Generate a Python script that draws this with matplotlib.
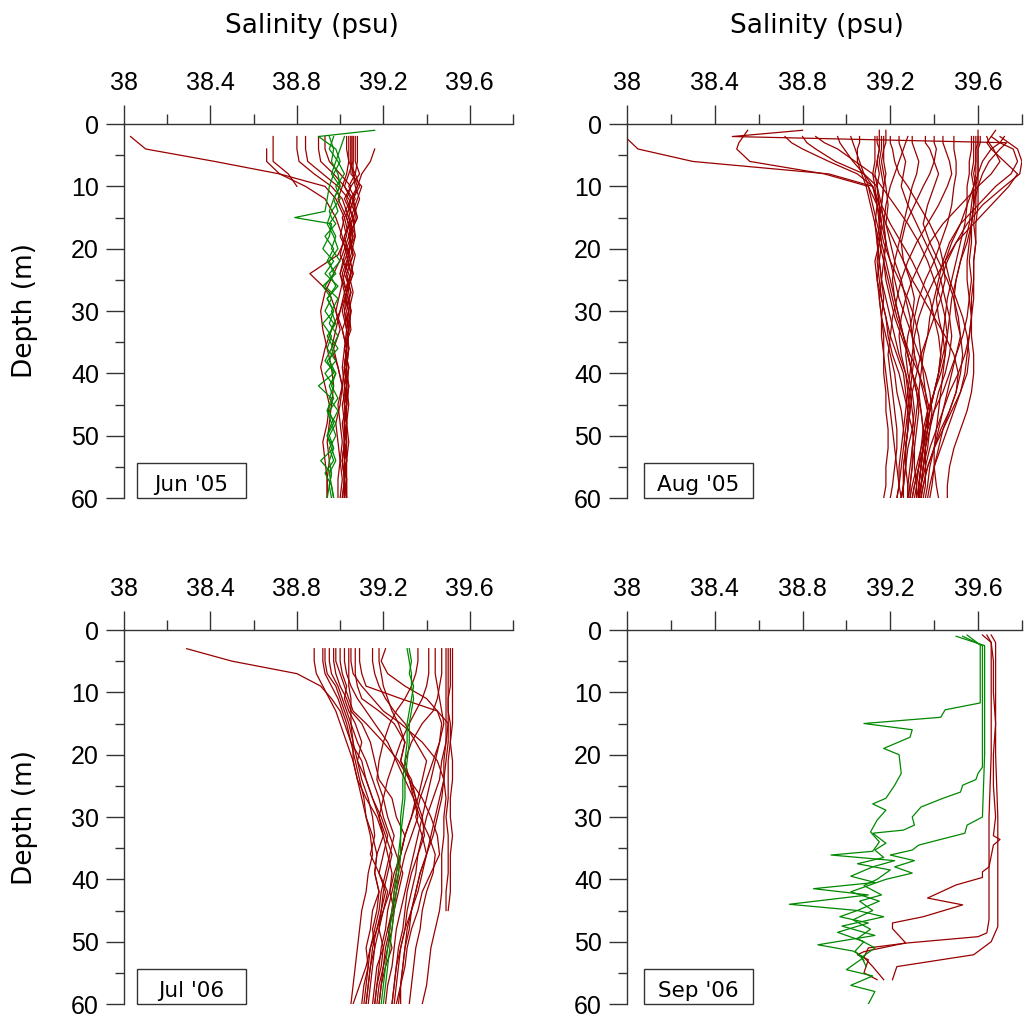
import matplotlib
matplotlib.use("Agg")
import numpy as np
import matplotlib.pyplot as plt
from matplotlib.patches import Rectangle
from matplotlib.ticker import MultipleLocator

RED = '#990000'
GREEN = '#008800'

sal_ticks = [38.0, 38.4, 38.8, 39.2, 39.6]
sal_ticklabels = ['38', '38.4', '38.8', '39.2', '39.6']
depth_ticks = [0, 10, 20, 30, 40, 50, 60]

# ---------------- Jun '05 ----------------
jun05_depth = [2, 4, 6, 8, 10, 12, 15, 18, 21, 24, 27, 30, 33, 36, 39, 42, 45, 48, 51, 54, 57, 60]
jun05_red = [
    [39.05, 39.05, 39.05, 39.06, 39.08, 39.05, 39.03, 39.06, 39.04, 39.02, 39.05, 39.03, 39.04, 39.03, 39.02, 39.03, 39.02, 39.03, 39.02, 39.02, 39.03, 39.02],
    [39.06, 39.06, 39.06, 39.04, 39.02, 39.06, 39.08, 39.04, 39.06, 39.03, 39.04, 39.05, 39.03, 39.04, 39.03, 39.02, 39.03, 39.02, 39.03, 39.03, 39.02, 39.03],
    [39.07, 39.07, 39.07, 39.09, 39.05, 39.02, 39.06, 39.07, 39.03, 39.05, 39.02, 39.04, 39.05, 39.02, 39.04, 39.03, 39.01, 39.02, 39.02, 39.01, 39.02, 39.01],
    [39.04, 39.04, 39.04, 39.03, 39.01, 38.99, 39.03, 39.05, 39.02, 39.00, 39.03, 39.02, 39.03, 39.04, 39.02, 39.03, 39.03, 39.02, 39.02, 39.01, 39.02, 39.02],
    [39.08, 39.08, 39.08, 39.07, 39.04, 39.07, 39.02, 39.00, 39.04, 39.06, 39.03, 39.01, 39.03, 39.02, 39.01, 39.02, 39.03, 39.01, 39.02, 39.03, 39.02, 39.03],
    [None, 39.16, 39.14, 39.10, 39.08, 39.06, 39.07, 39.05, 39.04, 39.06, 39.03, 39.05, 39.04, 39.03, 39.03, 39.02, 39.03, 39.02, 39.02, 39.03, 39.02, 39.02],
    [38.03, 38.10, 38.42, 38.72, 38.93, 38.98, 39.02, 39.04, 39.06, 39.03, 39.05, 39.02, 39.04, 39.03, 39.02, 39.04, 39.03, 39.02, 39.03, 39.02, 39.02, 39.01],
    [None, 38.66, 38.66, 38.72, 38.84, 38.93, 38.98, 39.01, 39.03, 39.00, 39.02, 39.04, 39.01, 39.03, 39.02, 39.01, 39.02, 39.03, 39.02, 39.01, 39.02, 39.02],
    [38.69, 38.69, 38.69, 38.76, 38.80, None, None, None, None, None, None, None, None, None, None, None, None, None, None, None, None, None],
    [38.80, 38.80, 38.81, 38.88, 38.96, 39.01, 39.04, 39.06, 39.03, 39.05, 39.02, 39.00, 38.98, 38.96, 38.99, 39.01, 39.00, 38.98, 38.99, 39.00, 38.99, 38.99],
    [38.84, 38.84, 38.85, 38.92, 38.99, 39.04, 39.08, 39.04, 39.01, 38.97, 38.93, 38.91, 38.92, 38.94, 38.96, 38.97, 38.96, 38.95, 38.94, 38.95, 38.94, 38.94],
    [38.90, 38.90, 38.91, 38.97, 39.02, 39.05, 39.01, 39.03, 38.99, 38.86, 38.95, 38.98, 39.00, 38.97, 38.99, 39.01, 38.99, 39.00, 39.01, 39.00, 39.01, 39.00],
    [38.93, 38.93, 38.95, 39.00, 39.05, 39.03, 39.06, 39.02, 39.04, 39.01, 39.03, 39.00, 38.96, 38.93, 38.91, 38.93, 38.95, 38.94, 38.92, 38.93, 38.94, 38.94],
    [39.03, 39.03, 39.04, 39.07, 39.09, 39.06, 39.04, 39.07, 39.05, 39.02, 39.00, 38.98, 39.01, 39.03, 39.02, 39.03, 39.04, 39.03, 39.03, 39.02, 39.03, 39.03],
    [39.05, 39.05, 39.05, 39.05, 39.10, 39.08, 39.05, 39.02, 39.00, 39.04, 39.06, 39.04, 39.03, 39.04, 39.03, 39.04, 39.03, 39.03, 39.04, 39.03, 39.03, 39.03],
    [39.06, 39.06, 39.06, 39.06, 39.07, 39.09, 39.06, 39.04, 39.07, 39.05, 39.03, 39.05, 39.04, 39.02, 39.04, 39.03, 39.02, 39.03, 39.02, 39.03, 39.02, 39.02],
]
jun05_green_depth = [1, 2, 4, 6, 8, 10, 12, 14, 15, 16, 18, 20, 22, 24, 26, 28, 30, 32, 34, 36, 38, 40, 42, 44, 46, 48, 50, 52, 54, 56, 58, 60]
jun05_green = [
    [39.16, 38.90, 38.98, 39.00, 38.97, 38.95, 38.94, 38.93, 38.79, 38.96, 38.95, 38.92, 38.97, 38.93, 38.99, 38.94, 38.97, 38.92, 38.96, 38.94, 38.98, 38.93, 38.97, 38.95, 38.99, 38.96, 38.94, 38.97, 38.95, 38.96, 38.95, 38.96],
    [None, 38.95, 38.97, 38.96, 38.99, 39.00, 38.97, 38.95, 38.96, 38.98, 38.93, 38.97, 38.94, 38.98, 38.92, 38.96, 38.93, 38.97, 38.95, 38.99, 38.94, 38.97, 38.90, 38.96, 38.94, 38.98, 38.95, 38.97, 38.91, 38.96, 38.95, 38.94],
    [None, 39.02, 39.00, 38.98, 38.96, 39.00, 38.97, 38.99, 38.97, 38.95, 38.98, 38.96, 39.00, 38.95, 38.98, 38.94, 38.97, 38.95, 38.99, 38.96, 38.93, 38.98, 38.95, 38.97, 38.94, 38.96, 38.98, 38.95, 38.97, 38.93, 38.96, 38.97],
    [None, 38.97, 38.95, 38.99, 39.02, 38.98, 39.00, 38.96, 38.95, 38.94, 38.97, 38.99, 38.95, 38.97, 38.93, 38.99, 38.96, 38.98, 38.94, 38.97, 38.95, 38.98, 38.96, 38.99, 38.95, 38.97, 38.94, 38.96, 38.98, 38.95, 38.96, 38.97],
]

# ---------------- Aug '05 ----------------
aug05_depth = [1, 2, 3, 4, 6, 8, 10, 13, 16, 19, 22, 25, 28, 31, 34, 37, 40, 43, 46, 49, 52, 55, 58, 60]
aug05_red = [
    [None, 39.14, 39.14, 39.15, 39.14, 39.15, 39.14, 39.15, 39.15, 39.16, 39.15, 39.16, 39.17, 39.16, 39.17, 39.17, 39.18, 39.19, 39.20, 39.21, 39.22, 39.23, 39.24, 39.25],
    [None, 39.16, 39.16, 39.16, 39.15, 39.16, 39.17, 39.16, 39.15, 39.14, 39.15, 39.16, 39.15, 39.16, 39.18, 39.20, 39.22, 39.23, 39.25, 39.26, 39.27, 39.27, 39.28, 39.28],
    [39.15, 39.15, 39.15, 39.15, 39.14, 39.13, 39.14, 39.15, 39.16, 39.15, 39.14, 39.15, 39.16, 39.18, 39.19, 39.21, 39.24, 39.26, 39.28, 39.30, 39.31, 39.31, 39.32, 39.32],
    [None, 39.17, 39.17, 39.17, 39.17, 39.18, 39.17, 39.16, 39.17, 39.18, 39.17, 39.18, 39.20, 39.22, 39.25, 39.28, 39.30, 39.32, 39.34, 39.35, 39.36, 39.36, 39.36, 39.35],
    [None, 39.13, 39.13, 39.13, 39.13, 39.12, 39.13, 39.14, 39.13, 39.14, 39.15, 39.14, 39.15, 39.16, 39.16, 39.17, 39.17, 39.18, 39.18, 39.19, 39.19, 39.18, 39.18, 39.17],
    [39.18, 39.18, 39.18, 39.17, 39.16, 39.17, 39.18, 39.19, 39.18, 39.20, 39.22, 39.25, 39.27, 39.29, 39.30, 39.31, 39.30, 39.29, 39.28, 39.28, 39.27, 39.27, 39.26, 39.26],
    [None, 37.99, 38.02, 38.05, 38.30, 38.92, 39.12, 39.15, 39.16, 39.15, 39.17, 39.16, 39.18, 39.20, 39.22, 39.24, 39.27, 39.29, 39.30, 39.31, 39.30, 39.30, 39.29, 39.29],
    [38.55, 38.53, 38.51, 38.50, 38.56, 38.90, 39.10, 39.14, 39.16, 39.18, 39.17, 39.19, 39.21, 39.23, 39.26, 39.28, 39.30, 39.33, 39.34, 39.35, 39.35, 39.34, 39.33, 39.33],
    [None, 38.72, 38.75, 38.80, 38.92, 39.05, 39.12, 39.14, 39.15, 39.17, 39.20, 39.24, 39.28, 39.31, 39.33, 39.34, 39.35, 39.36, 39.37, 39.37, 39.36, 39.35, 39.34, 39.34],
    [None, 38.80, 38.82, 38.86, 38.95, 39.08, 39.14, 39.16, 39.20, 39.25, 39.30, 39.34, 39.38, 39.40, 39.42, 39.43, 39.42, 39.40, 39.38, 39.36, 39.35, 39.34, 39.33, 39.33],
    [None, 38.86, 38.90, 38.96, 39.04, 39.12, 39.16, 39.22, 39.28, 39.33, 39.37, 39.40, 39.43, 39.45, 39.46, 39.45, 39.44, 39.43, 39.42, 39.41, 39.40, 39.40, 39.41, 39.42],
    [None, 38.96, 38.97, 38.99, 39.03, 39.08, 39.12, 39.15, 39.18, 39.22, 39.26, 39.29, 39.31, 39.30, 39.28, 39.27, 39.28, 39.30, 39.31, 39.30, 39.28, 39.27, 39.26, 39.25],
    [None, 39.02, 39.03, 39.04, 39.06, 39.08, 39.10, 39.12, 39.14, 39.16, 39.18, 39.20, 39.22, 39.24, 39.26, 39.29, 39.33, 39.36, 39.38, 39.37, 39.35, 39.33, 39.31, 39.30],
    [None, 39.06, 39.06, 39.05, 39.05, 39.07, 39.09, 39.11, 39.13, 39.15, 39.13, 39.14, 39.16, 39.18, 39.20, 39.23, 39.26, 39.27, 39.28, 39.27, 39.26, 39.25, 39.24, 39.23],
    [38.80, 38.48, 39.73, 39.70, 39.65, 39.62, 39.60, 39.58, 39.57, 39.55, 39.52, 39.50, 39.48, 39.47, 39.46, 39.44, 39.42, 39.40, 39.38, 39.36, 39.35, 39.34, 39.33, 39.33],
    [None, 39.59, 39.59, 39.59, 39.59, 39.58, 39.59, 39.59, 39.58, 39.59, 39.58, 39.58, 39.57, 39.57, 39.56, 39.55, 39.54, 39.52, 39.49, 39.46, 39.43, 39.40, 39.38, 39.37],
    [None, 39.60, 39.60, 39.60, 39.60, 39.60, 39.60, 39.60, 39.59, 39.59, 39.58, 39.58, 39.58, 39.57, 39.56, 39.54, 39.51, 39.47, 39.44, 39.41, 39.38, 39.36, 39.34, 39.33],
    [None, 39.58, 39.58, 39.58, 39.58, 39.57, 39.58, 39.58, 39.57, 39.57, 39.56, 39.57, 39.56, 39.55, 39.53, 39.50, 39.47, 39.44, 39.40, 39.37, 39.35, 39.33, 39.31, 39.30],
    [None, 39.61, 39.61, 39.60, 39.60, 39.60, 39.59, 39.58, 39.57, 39.56, 39.55, 39.55, 39.56, 39.57, 39.57, 39.58, 39.58, 39.57, 39.55, 39.52, 39.49, 39.47, 39.46, 39.46],
    [39.60, 39.60, 39.60, 39.59, 39.59, 39.59, 39.58, 39.57, 39.56, 39.54, 39.52, 39.50, 39.49, 39.50, 39.52, 39.53, 39.52, 39.50, 39.47, 39.44, 39.42, 39.40, 39.39, 39.38],
    [None, 39.57, 39.57, 39.57, 39.56, 39.56, 39.55, 39.55, 39.54, 39.52, 39.50, 39.48, 39.46, 39.45, 39.44, 39.43, 39.42, 39.40, 39.38, 39.36, 39.34, 39.32, 39.30, 39.29],
    [None, 39.66, 39.70, 39.76, 39.78, 39.75, 39.68, 39.60, 39.52, 39.47, 39.44, 39.42, 39.40, 39.38, 39.37, 39.35, 39.34, 39.33, 39.32, 39.31, 39.30, 39.29, 39.28, 39.28],
    [None, 39.70, 39.74, 39.78, 39.80, 39.79, 39.72, 39.62, 39.55, 39.50, 39.46, 39.43, 39.41, 39.42, 39.44, 39.45, 39.43, 39.40, 39.37, 39.35, 39.34, 39.33, 39.32, 39.31],
    [39.68, 39.66, 39.64, 39.66, 39.72, 39.78, 39.74, 39.66, 39.58, 39.50, 39.45, 39.40, 39.36, 39.33, 39.31, 39.30, 39.29, 39.28, 39.27, 39.26, 39.25, 39.24, 39.24, 39.23],
    [None, 39.64, 39.65, 39.67, 39.70, 39.66, 39.60, 39.52, 39.44, 39.38, 39.34, 39.30, 39.27, 39.25, 39.24, 39.25, 39.27, 39.28, 39.29, 39.28, 39.27, 39.26, 39.26, 39.25],
    [None, 39.72, 39.70, 39.66, 39.62, 39.60, 39.58, 39.55, 39.52, 39.48, 39.45, 39.47, 39.50, 39.53, 39.55, 39.56, 39.55, 39.52, 39.48, 39.44, 39.40, 39.37, 39.35, 39.34],
    [None, 39.24, 39.24, 39.25, 39.27, 39.26, 39.25, 39.28, 39.32, 39.36, 39.40, 39.43, 39.45, 39.47, 39.48, 39.47, 39.45, 39.42, 39.40, 39.38, 39.36, 39.35, 39.34, 39.33],
    [None, 39.30, 39.30, 39.31, 39.33, 39.32, 39.30, 39.28, 39.26, 39.24, 39.22, 39.21, 39.22, 39.24, 39.26, 39.28, 39.30, 39.32, 39.33, 39.32, 39.31, 39.30, 39.29, 39.28],
    [None, 39.36, 39.36, 39.38, 39.40, 39.42, 39.40, 39.37, 39.35, 39.38, 39.42, 39.46, 39.49, 39.51, 39.52, 39.50, 39.48, 39.46, 39.44, 39.42, 39.40, 39.38, 39.37, 39.36],
    [None, 39.44, 39.44, 39.45, 39.47, 39.48, 39.46, 39.42, 39.37, 39.32, 39.28, 39.25, 39.23, 39.21, 39.20, 39.19, 39.20, 39.21, 39.22, 39.23, 39.23, 39.22, 39.21, 39.20],
    [None, 39.49, 39.49, 39.49, 39.50, 39.50, 39.49, 39.48, 39.46, 39.43, 39.40, 39.36, 39.33, 39.31, 39.30, 39.31, 39.33, 39.35, 39.37, 39.36, 39.35, 39.34, 39.33, 39.32],
    [None, 39.28, 39.27, 39.26, 39.24, 39.22, 39.20, 39.18, 39.17, 39.18, 39.20, 39.22, 39.24, 39.27, 39.30, 39.33, 39.36, 39.38, 39.39, 39.38, 39.37, 39.35, 39.34, 39.33],
    [None, 39.40, 39.40, 39.41, 39.40, 39.38, 39.35, 39.31, 39.27, 39.25, 39.26, 39.30, 39.35, 39.40, 39.45, 39.49, 39.51, 39.50, 39.47, 39.43, 39.40, 39.37, 39.35, 39.34],
    [None, 39.20, 39.20, 39.21, 39.22, 39.24, 39.28, 39.33, 39.38, 39.42, 39.44, 39.45, 39.43, 39.40, 39.37, 39.34, 39.32, 39.30, 39.29, 39.28, 39.27, 39.26, 39.26, 39.25],
]

# ---------------- Jul '06 ----------------
jul06_depth = [3, 5, 7, 9, 11, 13, 15, 18, 21, 24, 27, 30, 33, 36, 39, 42, 45, 48, 51, 54, 57, 60]
jul06_red = [
    [38.29, 38.50, 38.80, 38.91, 38.96, 39.00, 39.02, 39.05, 39.10, 39.12, 39.15, 39.18, 39.20, 39.17, 39.16, 39.18, 39.15, 39.14, 39.12, 39.13, 39.11, 39.10],
    [38.88, 38.88, 38.89, 38.92, 38.95, 38.98, 39.00, 39.03, 39.06, 39.08, 39.10, 39.12, 39.15, 39.17, 39.16, 39.18, 39.17, 39.15, 39.16, 39.14, 39.13, 39.12],
    [38.93, 38.93, 38.94, 38.98, 39.00, 39.02, 39.04, 39.06, 39.08, 39.12, 39.15, 39.19, 39.22, 39.20, 39.18, 39.21, 39.19, 39.18, 39.20, 39.17, 39.16, 39.15],
    [38.97, 38.97, 38.98, 39.00, 39.03, 39.05, 39.10, 39.14, 39.16, 39.18, 39.24, 39.26, 39.30, 39.28, 39.27, 39.25, 39.24, 39.22, 39.20, 39.19, 39.17, 39.16],
    [39.00, 39.00, 39.01, 39.03, 39.02, 39.04, 39.07, 39.10, 39.08, 39.10, 39.13, 39.15, 39.16, 39.14, 39.18, 39.22, 39.20, 39.17, 39.14, 39.12, 39.09, 39.06],
    [39.04, 39.04, 39.04, 39.04, 39.05, 39.05, 39.05, 39.06, 39.06, 39.08, 39.12, 39.17, 39.20, 39.22, 39.24, 39.23, 39.25, 39.22, 39.24, 39.21, 39.19, 39.18],
    [39.07, 39.07, 39.07, 39.08, 39.10, 39.18, 39.25, 39.30, 39.28, 39.33, 39.35, 39.38, 39.36, 39.34, 39.32, 39.30, 39.28, 39.26, 39.25, 39.24, 39.22, 39.21],
    [39.09, 39.09, 39.10, 39.12, 39.28, 39.45, 39.50, 39.49, 39.47, 39.46, 39.43, 39.40, 39.38, 39.36, 39.35, 39.33, 39.31, 39.30, 39.28, 39.27, 39.26, 39.25],
    [39.18, 39.18, 39.19, 39.20, 39.22, 39.24, 39.27, 39.30, 39.28, 39.32, 39.34, 39.36, 39.33, 39.30, 39.28, 39.26, 39.24, 39.23, 39.21, 39.20, 39.19, 39.18],
    [39.21, 39.19, 39.22, 39.30, 39.40, 39.45, 39.47, 39.46, 39.44, 39.42, 39.40, 39.38, 39.39, 39.36, 39.33, 39.31, 39.30, 39.29, 39.27, 39.26, 39.25, 39.24],
    [39.36, 39.36, 39.35, 39.33, 39.30, 39.26, 39.23, 39.20, 39.18, 39.17, 39.20, 39.22, 39.25, 39.23, 39.21, 39.19, 39.18, 39.16, 39.14, 39.13, 39.12, 39.11],
    [39.41, 39.41, 39.41, 39.40, 39.38, 39.35, 39.32, 39.28, 39.25, 39.22, 39.20, 39.18, 39.21, 39.24, 39.22, 39.20, 39.19, 39.17, 39.15, 39.14, 39.13, 39.12],
    [39.44, 39.44, 39.44, 39.45, 39.46, 39.47, 39.48, 39.46, 39.43, 39.40, 39.37, 39.35, 39.38, 39.40, 39.37, 39.35, 39.33, 39.31, 39.30, 39.29, 39.28, 39.27],
    [39.50, 39.50, 39.50, 39.50, 39.50, 39.50, 39.51, 39.51, 39.50, 39.50, 39.50, 39.49, 39.50, 39.50, 39.50, 39.49, 39.49, None, None, None, None, None],
    [39.52, 39.52, 39.52, 39.52, 39.52, 39.52, 39.52, 39.51, 39.52, 39.52, 39.51, 39.51, 39.52, 39.51, 39.51, 39.51, 39.50, None, None, None, None, None],
    [39.49, 39.49, 39.49, 39.49, 39.49, 39.49, 39.49, 39.49, 39.48, 39.48, 39.49, 39.48, 39.48, 39.47, 39.47, 39.47, 39.46, 39.44, 39.42, 39.41, 39.40, 39.38],
    [39.51, 39.51, 39.51, 39.51, 39.50, 39.50, 39.50, 39.50, 39.49, 39.48, 39.46, 39.44, 39.42, 39.40, 39.37, 39.35, 39.33, 39.32, 39.30, 39.29, 39.28, 39.28],
    [39.47, 39.47, 39.47, 39.46, 39.45, 39.43, 39.38, 39.33, 39.30, 39.32, 39.35, 39.33, 39.30, 39.28, 39.26, 39.24, 39.22, 39.21, 39.19, 39.18, 39.17, 39.16],
    [38.98, 38.98, 39.00, 39.02, 39.04, 39.06, 39.12, 39.20, 39.27, 39.32, 39.38, 39.42, 39.45, 39.46, 39.42, 39.38, 39.36, 39.33, 39.31, 39.30, 39.28, 39.26],
    [39.05, 39.05, 39.06, 39.10, 39.15, 39.20, 39.28, 39.38, 39.45, 39.48, 39.47, 39.45, 39.43, 39.40, 39.38, 39.36, 39.33, 39.30, 39.28, 39.26, 39.25, 39.24],
    [38.92, 38.92, 38.93, 38.96, 38.99, 39.01, 39.03, 39.05, 39.07, 39.09, 39.11, 39.12, 39.14, 39.15, 39.13, 39.12, 39.10, 39.09, 39.08, 39.07, 39.06, 39.05],
    [39.15, 39.15, 39.16, 39.18, 39.21, 39.25, 39.30, 39.35, 39.40, 39.38, 39.36, 39.33, 39.30, 39.28, 39.25, 39.23, 39.20, 39.18, 39.16, 39.15, 39.14, 39.13],
    [39.02, 39.02, 39.03, 39.05, 39.08, 39.12, 39.16, 39.22, 39.26, 39.30, 39.34, 39.37, 39.41, 39.44, 39.43, 39.40, 39.38, 39.37, 39.35, 39.34, 39.33, 39.32],
    [38.95, 38.95, 38.96, 38.99, 39.01, 39.03, 39.05, 39.08, 39.12, 39.15, 39.18, 39.20, 39.23, 39.26, 39.29, 39.27, 39.25, 39.24, 39.22, 39.20, 39.18, 39.17],
]
jul06_green = [
    [39.31, 39.32, 39.33, 39.33, 39.34, 39.33, 39.32, 39.32, 39.31, 39.30, 39.30, 39.29, 39.28, 39.28, 39.27, 39.26, 39.25, 39.24, 39.23, 39.22, 39.21, 39.20],
    [39.32, 39.33, 39.32, 39.34, 39.33, 39.32, 39.31, 39.31, 39.30, 39.29, 39.29, 39.28, 39.28, 39.27, 39.26, 39.25, 39.24, 39.23, 39.22, 39.21, 39.20, 39.19],
]

# ---------------- Sep '06 ----------------
sep06_red_a_depth = [0.8, 2, 5, 10, 15, 20, 25, 30, 33, 33.6, 34.5, 38, 38.8, 39.7, 40.9, 43, 44.1, 46, 47, 47.9, 50.2, 51.6, 52.1, 52.9, 55, 56.1]
sep06_red_a_sal = [39.62, 39.66, 39.67, 39.67, 39.68, 39.67, 39.67, 39.68, 39.67, 39.70, 39.67, 39.65, 39.62, 39.62, 39.50, 39.37, 39.53, 39.35, 39.21, 39.21, 39.27, 39.08, 39.05, 39.10, 39.08, 39.14]
sep06_red_b_depth = [0.8, 2, 10, 20, 30, 40, 46.5, 48.6, 49.2, 50.2, 51, 52.5, 54, 56.1]
sep06_red_b_sal = [39.64, 39.66, 39.66, 39.66, 39.65, 39.65, 39.65, 39.64, 39.60, 39.28, 39.10, 39.08, 39.12, 39.17]
sep06_red_c_depth = [0.8, 2, 10, 20, 30, 40, 47.6, 50, 52.1, 54, 56.1]
sep06_red_c_sal = [39.66, 39.68, 39.68, 39.68, 39.69, 39.69, 39.69, 39.66, 39.58, 39.23, 39.21]
sep06_green_a_depth = [0.8, 2.4, 11.7, 12.8, 14, 15, 16, 17.2, 19, 20, 23, 24.9, 27, 27.9, 28.9, 30.5, 32.4, 34, 35.5, 36.1, 37, 38, 39.5, 40.5, 41.5, 42.5, 44, 45, 46, 47.5, 49, 50.5, 51.5, 52.5, 54.5, 55.5, 57, 58, 60]
sep06_green_a_sal = [39.55, 39.61, 39.61, 39.45, 39.43, 39.08, 39.30, 39.29, 39.17, 39.24, 39.25, 39.22, 39.18, 39.12, 39.18, 39.14, 39.11, 39.15, 39.12, 38.93, 39.22, 39.12, 39.02, 39.13, 38.85, 39.10, 38.74, 39.05, 39.17, 38.98, 39.13, 38.87, 39.03, 39.08, 39.00, 39.12, 39.02, 39.13, 39.10]
sep06_green_b_depth = [1, 2.5, 10, 22, 23, 24, 24.9, 26, 27, 28.4, 30, 31.3, 32.1, 32.6, 34.2, 35.3, 36.5, 37.5, 38.5, 40, 41, 42.5, 43.5, 45, 46.5, 48, 49.5, 51, 52.5, 54]
sep06_green_b_sal = [39.53, 39.62, 39.62, 39.62, 39.60, 39.59, 39.53, 39.52, 39.44, 39.34, 39.30, 39.31, 39.26, 39.12, 39.18, 39.13, 39.17, 39.05, 39.20, 39.14, 39.08, 39.16, 39.06, 39.12, 39.03, 39.11, 39.05, 39.13, 39.07, 39.09]
sep06_green_c_depth = [1, 2.5, 10, 20, 30, 31.3, 32.6, 34.5, 35.3, 36.1, 37, 38, 39, 40, 41, 42, 43.5, 45, 46, 47, 48.5, 50, 51.5, 53]
sep06_green_c_sal = [39.50, 39.63, 39.63, 39.63, 39.62, 39.55, 39.54, 39.33, 39.30, 39.20, 39.31, 39.22, 39.30, 39.18, 39.10, 39.02, 39.15, 39.05, 38.97, 39.10, 38.96, 39.08, 39.04, 39.08]


def as_float(values):
    return np.array([np.nan if v is None else v for v in values], dtype=float)


def draw_profiles(ax, depth, profiles, color):
    for prof in profiles:
        assert len(prof) == len(depth), (len(prof), len(depth))
        ax.plot(as_float(prof), depth, color=color, lw=0.9)


def style_axes(ax, label, box_x0, box_x1):
    ax.set_xlim(38, 39.8)
    ax.set_ylim(60, 0)
    ax.xaxis.tick_top()
    ax.set_xticks(sal_ticks)
    ax.set_xticklabels(sal_ticklabels)
    ax.xaxis.set_minor_locator(MultipleLocator(0.2))
    ax.set_yticks(depth_ticks)
    ax.yaxis.set_minor_locator(MultipleLocator(5))
    for side in ('right', 'bottom'):
        ax.spines[side].set_visible(False)
    for side in ('left', 'top'):
        ax.spines[side].set_color('#333333')
        ax.spines[side].set_linewidth(1.0)
    ax.tick_params(axis='x', which='major', length=14, width=1, pad=7,
                   color='#333333', labelsize=18)
    ax.tick_params(axis='x', which='minor', length=7, width=1, color='#333333')
    ax.tick_params(axis='y', which='major', length=13, width=1, pad=5,
                   color='#333333', labelsize=18)
    ax.tick_params(axis='y', which='minor', length=6.5, width=1, color='#333333')
    for lab in ax.get_xticklabels() + ax.get_yticklabels():
        lab.set_family('Liberation Sans')
    # month label box
    ax.add_patch(Rectangle((box_x0, 0.0), box_x1 - box_x0, 0.094, transform=ax.transAxes,
                           fill=False, ec='#333333', lw=1, clip_on=False, zorder=5))
    ax.text((box_x0 + box_x1) / 2, 0.034, label, transform=ax.transAxes,
            ha='center', va='center', fontsize=15.5, family='DejaVu Sans', zorder=6)


fig = plt.figure(figsize=(10.25, 10.21), dpi=100)

ax_jun = fig.add_axes([0.1210, 0.5122, 0.3795, 0.3663])
ax_aug = fig.add_axes([0.6117, 0.5122, 0.3853, 0.3663])
ax_jul = fig.add_axes([0.1210, 0.01665, 0.3795, 0.3663])
ax_sep = fig.add_axes([0.6117, 0.01665, 0.3853, 0.3663])

draw_profiles(ax_jun, jun05_depth, jun05_red, RED)
draw_profiles(ax_jun, jun05_green_depth, jun05_green, GREEN)

draw_profiles(ax_aug, aug05_depth, aug05_red, RED)

draw_profiles(ax_jul, jul06_depth, jul06_red, RED)
draw_profiles(ax_jul, jul06_depth, jul06_green, GREEN)

for d, s in [(sep06_red_a_depth, sep06_red_a_sal),
             (sep06_red_b_depth, sep06_red_b_sal),
             (sep06_red_c_depth, sep06_red_c_sal)]:
    ax_sep.plot(s, d, color=RED, lw=0.9)
for d, s in [(sep06_green_a_depth, sep06_green_a_sal),
             (sep06_green_b_depth, sep06_green_b_sal),
             (sep06_green_c_depth, sep06_green_c_sal)]:
    ax_sep.plot(s, d, color=GREEN, lw=0.9)

style_axes(ax_jun, "Jun '05", 0.033, 0.314)
style_axes(ax_aug, "Aug '05", 0.043, 0.319)
style_axes(ax_jul, "Jul '06", 0.033, 0.314)
style_axes(ax_sep, "Sep '06", 0.043, 0.319)

fig.text(0.3044, 0.975, 'Salinity (psu)', ha='center', va='center', fontsize=19, family='DejaVu Sans')
fig.text(0.797, 0.975, 'Salinity (psu)', ha='center', va='center', fontsize=19, family='DejaVu Sans')
fig.text(0.024, 0.6954, 'Depth (m)', ha='center', va='center', rotation=90, fontsize=19, family='DejaVu Sans')
fig.text(0.024, 0.1998, 'Depth (m)', ha='center', va='center', rotation=90, fontsize=19, family='DejaVu Sans')

fig.savefig('out.png', dpi=100)
